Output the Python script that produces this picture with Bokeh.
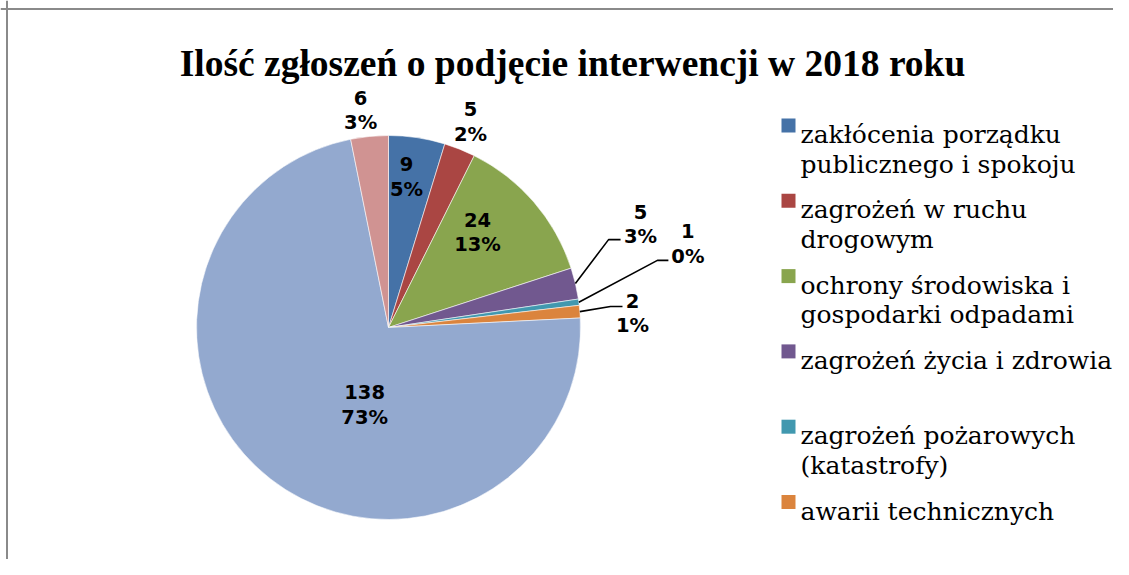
import math
from bokeh.plotting import figure
from bokeh.models import Range1d, Span, ColumnDataSource
from bokeh.core.properties import value
from bokeh.embed import file_html
from bokeh.resources import INLINE

# ---------------- data ----------------
title_text = "Ilość zgłoszeń o podjęcie interwencji w 2018 roku"
legend_labels = [
    "zakłócenia porządku\npublicznego i spokoju",
    "zagrożeń w ruchu\ndrogowym",
    "ochrony środowiska i\ngospodarki odpadami",
    "zagrożeń życia i zdrowia",
    "zagrożeń pożarowych\n(katastrofy)",
    "awarii technicznych",
]
counts = [9, 5, 24, 5, 1, 2, 138, 6]
percent_labels = ["5%", "2%", "13%", "3%", "0%", "1%", "73%", "3%"]
colors = ["#4572A7", "#AA4643", "#89A54E", "#71588F",
          "#4198AF", "#DB843D", "#93A9CF", "#D09392"]

# ---------------- layout ----------------
W, H = 1113, 559
cx, cy, R = 388, 232, 192
# label placement: radius factor and angle (deg, counter-clockwise from +x)
label_rfac = [0.792, 1.153, 0.68, 1.419, 1.619, 1.273, 0.42, 1.142]
label_ang = [83.2, 68.25, 47.0, 22.3, 15.6, 3.4, -107.2, 97.3]
# leader lines: (elbow dx, elbow dy, end dx, end dy) relative to label centre (y up)
leaders = {3: (-32, -15.5, -20, -15.5),
           4: (-30.5, -16.5, -19.5, -16.5),
           5: (-22, 6.5, -10, 6.5)}

p = figure(width=W, height=H, output_backend="svg", toolbar_location=None,
           x_range=Range1d(0, W), y_range=Range1d(0, H), min_border=0,
           title=None)
p.axis.visible = False
p.grid.visible = False
p.outline_line_color = None
p.background_fill_color = "white"
p.border_fill_color = "white"

# chart border (top and left visible in the crop)
p.add_layout(Span(location=550.5, dimension="width", line_color="#8a8a8a", line_width=2))
p.add_layout(Span(location=6.5, dimension="height", line_color="#8a8a8a", line_width=2))

# ---------------- pie ----------------
total = sum(counts)
starts, ends, mids = [], [], []
cum = 0
for v in counts:
    a_start = math.pi / 2 - 2 * math.pi * cum / total
    cum += v
    a_end = math.pi / 2 - 2 * math.pi * cum / total
    starts.append(a_end)
    ends.append(a_start)
    mids.append((a_start + a_end) / 2)

src = ColumnDataSource(dict(start=starts, end=ends, color=colors))
p.wedge(x=cx, y=cy, radius=R, start_angle="start", end_angle="end",
        fill_color="color", line_color="white", line_width=0.8, line_alpha=0.7,
        source=src)

# ---------------- data labels ----------------
lx, ly, lt = [], [], []
lead_xs, lead_ys = [], []
line_gap = 25
for i, v in enumerate(counts):
    a = math.radians(label_ang[i])
    x = cx + label_rfac[i] * R * math.cos(a)
    y = cy + label_rfac[i] * R * math.sin(a)
    lx += [x, x]
    ly += [y + line_gap / 2, y - line_gap / 2]
    lt += [str(v), percent_labels[i]]
    if i in leaders:
        ex, ey, tx, ty = leaders[i]
        sx = cx + R * math.cos(mids[i])
        sy = cy + R * math.sin(mids[i])
        lead_xs.append([sx, x + ex, x + tx])
        lead_ys.append([sy, y + ey, y + ty])

p.multi_line(xs=lead_xs, ys=lead_ys, line_color="black", line_width=1.6)
p.text(x=lx, y=ly, text=lt, text_font=value("DejaVu Sans"), text_font_size="19.5px",
       text_font_style="bold", text_color="black", text_align="center",
       text_baseline="middle")

# ---------------- title ----------------
p.text(x=[572], y=[496], text=[title_text], text_font=value("Liberation Serif"),
       text_font_size="37.5px", text_font_style="bold", text_color="black",
       text_align="center", text_baseline="alphabetic")

# ---------------- legend ----------------
sq_x, txt_x = 788, 800
first_y, step, lgap = 434, 75.3, 29.5
sqx, sqy, sqc = [], [], []
tx_, ty_, tt_ = [], [], []
for i, lab in enumerate(legend_labels):
    yc = first_y - i * step
    sqx.append(sq_x)
    sqy.append(yc)
    sqc.append(colors[i])
    for k, line in enumerate(lab.split("\n")):
        tx_.append(txt_x)
        ty_.append(yc - 9 - k * lgap)
        tt_.append(line)

p.rect(x=sqx, y=sqy, width=14, height=14, fill_color=sqc, line_color=None)
p.text(x=tx_, y=ty_, text=tt_, text_font=value("DejaVu Serif"), text_font_size="25px",
       text_color="black", text_align="left", text_baseline="alphabetic")

open("out.html", "w").write(file_html(p, INLINE))
